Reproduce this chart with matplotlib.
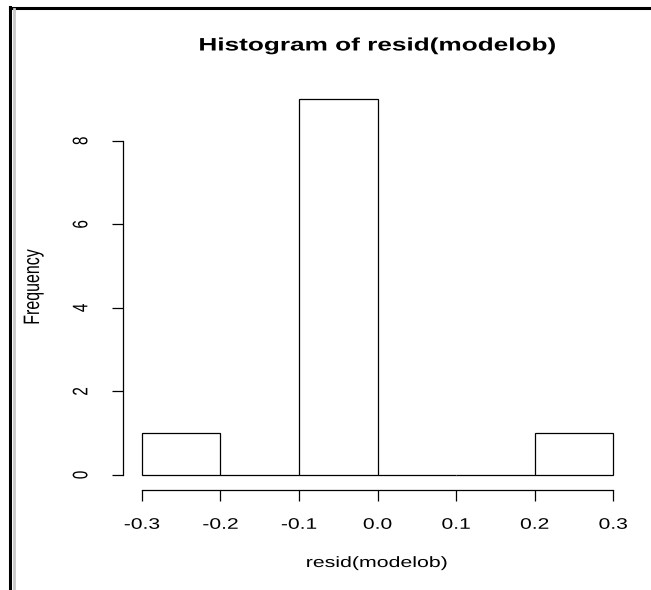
import matplotlib
matplotlib.use("Agg")
import matplotlib.pyplot as plt
from matplotlib.lines import Line2D
from matplotlib.patheffects import AbstractPathEffect
from matplotlib.transforms import Affine2D

# Data
bin_edges = [-0.3, -0.2, -0.1, 0.0, 0.1, 0.2, 0.3]
counts = [1, 0, 9, 0, 0, 1]
x_ticks = [-0.3, -0.2, -0.1, 0.0, 0.1, 0.2, 0.3]
x_tick_labels = ["-0.3", "-0.2", "-0.1", "0.0", "0.1", "0.2", "0.3"]
y_ticks = [0, 2, 4, 6, 8]
title = "Histogram of resid(modelob)"
x_label = "resid(modelob)"
y_label = "Frequency"

plt.rcParams['font.family'] = ['Liberation Sans', 'DejaVu Sans']


class HStretch(AbstractPathEffect):
    """Stretch text horizontally about its centre (the reference is a
    horizontally stretched screenshot)."""

    def __init__(self, sx):
        super().__init__()
        self.sx = sx

    def draw_path(self, renderer, gc, tpath, affine, rgbFace=None):
        ext = tpath.get_extents(affine)
        cx = (ext.x0 + ext.x1) / 2
        new = affine + Affine2D().translate(-cx, 0).scale(self.sx, 1).translate(cx, 0)
        renderer.draw_path(gc, tpath, new, rgbFace)


W, H = 651, 590
fig = plt.figure(figsize=(W / 100, H / 100), dpi=100)
fig.patch.set_facecolor("white")

ax = fig.add_axes([123 / W, 100 / H, (632 - 123) / W, (506 - 100) / H])

lefts = bin_edges[:-1]
widths = [bin_edges[i + 1] - bin_edges[i] for i in range(len(counts))]
ax.bar(lefts, counts, width=widths, align='edge', facecolor='white',
       edgecolor='black', linewidth=0.9)

xr = bin_edges[-1] - bin_edges[0]
ax.set_xlim(bin_edges[0] - 0.04 * xr, bin_edges[-1] + 0.04 * xr)
ym = max(counts)
ax.set_ylim(-0.04 * ym, ym * 1.04)

for s in ['top', 'right']:
    ax.spines[s].set_visible(False)
ax.spines['bottom'].set_bounds(x_ticks[0], x_ticks[-1])
ax.spines['left'].set_bounds(y_ticks[0], y_ticks[-1])
for s in ['bottom', 'left']:
    ax.spines[s].set_linewidth(0.9)
    ax.spines[s].set_color('black')

ax.set_xticks(x_ticks)
ax.set_xticklabels(x_tick_labels)
ax.set_yticks(y_ticks)
ax.set_yticklabels([str(v) for v in y_ticks], rotation=90, va='center', ha='center')
ax.tick_params(axis='both', direction='out', length=8, width=0.9,
               labelsize=11, colors='black')
ax.tick_params(axis='x', pad=12)
ax.tick_params(axis='y', pad=22)
for lab in ax.get_xticklabels() + ax.get_yticklabels():
    lab.set_path_effects([HStretch(1.38)])

fig.text(377 / W, 1 - 46 / H, title, ha='center', va='center',
         fontsize=13, fontweight='bold', path_effects=[HStretch(1.45)])
fig.text(377 / W, 1 - 563 / H, x_label, ha='center', va='center',
         fontsize=10.8, path_effects=[HStretch(1.42)])
fig.text(33 / W, 1 - 287 / H, y_label, ha='center', va='center',
         fontsize=11.5, rotation=90, path_effects=[HStretch(1.4)])

# screenshot frame
fig.add_artist(Line2D([9.5 / W, 1.0], [1 - 8 / H, 1 - 8 / H], color='black',
                      linewidth=2.2, transform=fig.transFigure))
fig.add_artist(Line2D([10 / W, 10 / W], [0, 1 - 7 / H], color='black',
                      linewidth=2.2, transform=fig.transFigure))
fig.add_artist(Line2D([13.5 / W, 13.5 / W], [0, 1 - 9 / H], color='#c8c8c8',
                      linewidth=2.0, transform=fig.transFigure))

fig.savefig("out.png", dpi=100, facecolor="white")
